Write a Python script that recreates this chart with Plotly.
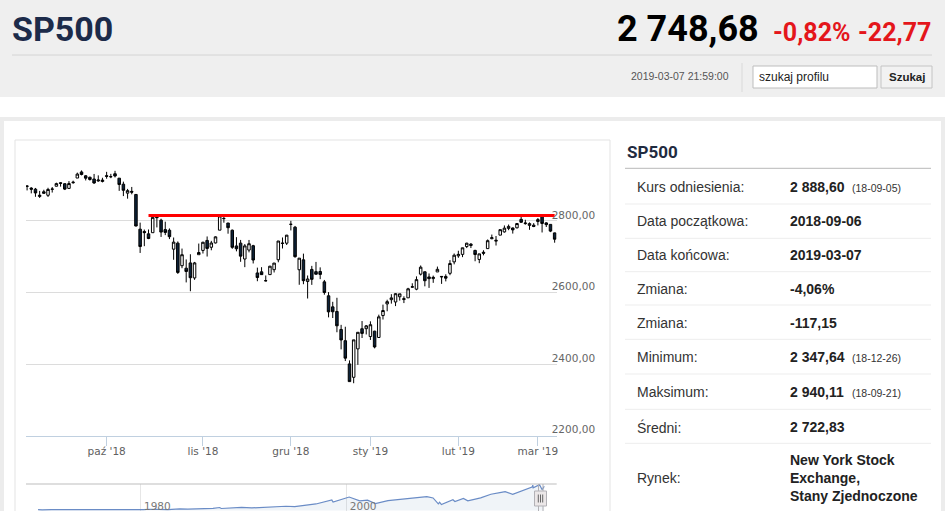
import plotly.graph_objects as go

W, H = 945, 511

# ---------------- data: S&P 500 daily candles ----------------
dates = [
    "2018-09-04", "2018-09-05", "2018-09-06", "2018-09-07", "2018-09-10", "2018-09-11", "2018-09-12",
    "2018-09-13", "2018-09-14", "2018-09-17", "2018-09-18", "2018-09-19", "2018-09-20", "2018-09-21",
    "2018-09-24", "2018-09-25", "2018-09-26", "2018-09-27", "2018-09-28",
    "2018-10-01", "2018-10-02", "2018-10-03", "2018-10-04", "2018-10-05", "2018-10-08", "2018-10-09",
    "2018-10-10", "2018-10-11", "2018-10-12", "2018-10-15", "2018-10-16", "2018-10-17", "2018-10-18",
    "2018-10-19", "2018-10-22", "2018-10-23", "2018-10-24", "2018-10-25", "2018-10-26", "2018-10-29",
    "2018-10-30", "2018-10-31",
    "2018-11-01", "2018-11-02", "2018-11-05", "2018-11-06", "2018-11-07", "2018-11-08", "2018-11-09",
    "2018-11-12", "2018-11-13", "2018-11-14", "2018-11-15", "2018-11-16", "2018-11-19", "2018-11-20",
    "2018-11-21", "2018-11-23", "2018-11-26", "2018-11-27", "2018-11-28", "2018-11-29", "2018-11-30",
    "2018-12-03", "2018-12-04", "2018-12-06", "2018-12-07", "2018-12-10", "2018-12-11", "2018-12-12",
    "2018-12-13", "2018-12-14", "2018-12-17", "2018-12-18", "2018-12-19", "2018-12-20", "2018-12-21",
    "2018-12-24", "2018-12-26", "2018-12-27", "2018-12-28", "2018-12-31",
    "2019-01-02", "2019-01-03", "2019-01-04", "2019-01-07", "2019-01-08", "2019-01-09", "2019-01-10",
    "2019-01-11", "2019-01-14", "2019-01-15", "2019-01-16", "2019-01-17", "2019-01-18", "2019-01-22",
    "2019-01-23", "2019-01-24", "2019-01-25", "2019-01-28", "2019-01-29", "2019-01-30", "2019-01-31",
    "2019-02-01", "2019-02-04", "2019-02-05", "2019-02-06", "2019-02-07", "2019-02-08", "2019-02-11",
    "2019-02-12", "2019-02-13", "2019-02-14", "2019-02-15", "2019-02-19", "2019-02-20", "2019-02-21",
    "2019-02-22", "2019-02-25", "2019-02-26", "2019-02-27", "2019-02-28",
    "2019-03-01", "2019-03-04", "2019-03-05", "2019-03-06", "2019-03-07",
]
opens = [
    2896.96, 2891.59, 2888.64, 2868.26, 2881.39, 2871.57, 2888.29, 2896.85, 2906.38, 2903.83,
    2890.74, 2906.60, 2919.73, 2936.76, 2925.94, 2921.83, 2916.98, 2911.65, 2910.03,
    2926.29, 2923.80, 2931.69, 2919.35, 2902.54, 2877.53, 2882.51, 2873.90, 2776.87, 2770.54,
    2763.83, 2767.05, 2811.67, 2802.00, 2775.66, 2773.94, 2721.03, 2737.87, 2674.88, 2667.86,
    2682.65, 2640.68, 2705.60,
    2717.58, 2745.45, 2726.37, 2738.40, 2774.13, 2806.38, 2794.10, 2773.93, 2730.05, 2737.90,
    2693.52, 2718.54, 2730.74, 2654.60, 2657.74, 2633.36, 2649.97, 2663.75, 2691.45, 2736.97,
    2737.76,
    2790.50, 2782.43, 2663.51, 2691.26, 2630.86, 2664.44, 2658.23, 2658.70, 2629.68, 2590.75,
    2559.90, 2547.05, 2496.77, 2465.38, 2400.56, 2363.12, 2442.50, 2498.77, 2498.94,
    2476.96, 2491.92, 2474.33, 2535.61, 2568.11, 2580.00, 2573.51, 2588.11, 2580.31, 2585.10,
    2614.75, 2609.28, 2651.27, 2657.88, 2643.48, 2638.84, 2657.44, 2644.97, 2644.89, 2653.62,
    2685.49,
    2702.32, 2706.49, 2728.34, 2735.05, 2717.53, 2692.36, 2712.40, 2722.61, 2750.30, 2743.50,
    2760.24, 2769.28, 2779.05, 2780.24, 2780.67, 2804.35, 2792.36, 2787.50, 2788.11,
    2798.22, 2814.37, 2794.41, 2790.27, 2766.53,
]
highs = [
    2900.18, 2894.21, 2892.05, 2883.81, 2886.93, 2892.52, 2894.65, 2906.76, 2908.30, 2904.65,
    2911.17, 2912.36, 2934.80, 2940.91, 2927.75, 2923.79, 2931.15, 2927.22, 2920.53,
    2937.06, 2931.42, 2939.86, 2919.78, 2909.64, 2889.45, 2894.83, 2874.02, 2795.14, 2775.77,
    2775.99, 2813.46, 2816.94, 2806.04, 2797.77, 2778.94, 2753.59, 2742.59, 2722.70, 2692.38,
    2706.85, 2685.43, 2736.69,
    2741.67, 2756.55, 2744.27, 2756.82, 2815.15, 2814.75, 2794.10, 2775.99, 2754.60, 2746.80,
    2735.38, 2746.75, 2733.16, 2669.44, 2670.73, 2647.55, 2674.35, 2682.53, 2744.00, 2753.75,
    2760.88,
    2800.18, 2785.93, 2696.15, 2708.54, 2647.51, 2674.35, 2685.44, 2670.19, 2635.07, 2601.13,
    2573.99, 2585.29, 2509.63, 2504.41, 2410.34, 2467.76, 2489.10, 2520.27, 2509.24,
    2519.49, 2493.14, 2538.07, 2566.16, 2579.82, 2595.32, 2597.82, 2596.27, 2589.32, 2613.08,
    2625.76, 2645.06, 2675.47, 2657.88, 2653.19, 2647.20, 2672.38, 2644.97, 2650.93, 2690.44,
    2708.95,
    2716.66, 2724.99, 2738.98, 2738.08, 2719.32, 2708.07, 2718.05, 2748.19, 2761.85, 2757.90,
    2775.66, 2787.33, 2789.88, 2781.58, 2794.20, 2813.49, 2803.12, 2795.76, 2793.73,
    2808.02, 2816.88, 2796.44, 2790.27, 2767.25,
]
lows = [
    2885.13, 2876.92, 2867.29, 2864.12, 2875.94, 2866.78, 2879.20, 2896.39, 2895.77, 2886.16,
    2890.43, 2903.82, 2919.73, 2927.11, 2912.98, 2912.63, 2903.28, 2909.27, 2907.50,
    2917.91, 2919.37, 2921.36, 2883.92, 2869.29, 2862.08, 2874.27, 2784.86, 2710.51, 2729.44,
    2749.03, 2766.91, 2781.81, 2755.18, 2760.27, 2749.22, 2691.43, 2651.89, 2667.84, 2628.16,
    2603.54, 2635.34, 2705.60,
    2708.85, 2700.44, 2717.94, 2737.08, 2774.13, 2794.99, 2764.24, 2722.00, 2714.98, 2685.75,
    2670.75, 2712.16, 2681.09, 2631.52, 2649.82, 2631.09, 2649.97, 2655.89, 2684.38, 2722.94,
    2732.76,
    2773.38, 2697.18, 2621.53, 2623.14, 2583.23, 2621.30, 2650.26, 2637.27, 2593.84, 2530.54,
    2528.71, 2488.96, 2441.18, 2408.55, 2351.10, 2346.58, 2397.94, 2472.89, 2482.82,
    2467.47, 2443.96, 2474.33, 2524.56, 2547.56, 2568.89, 2562.02, 2577.40, 2570.41, 2585.10,
    2612.68, 2606.36, 2647.58, 2617.27, 2612.86, 2627.01, 2657.33, 2624.06, 2631.05, 2648.34,
    2678.65,
    2696.88, 2698.75, 2724.03, 2724.15, 2687.26, 2681.83, 2703.79, 2722.61, 2748.63, 2731.23,
    2760.24, 2767.29, 2774.06, 2764.55, 2779.11, 2794.99, 2789.47, 2775.13, 2782.51,
    2787.38, 2767.66, 2782.97, 2768.69, 2739.09,
]
closes = [
    2896.72, 2888.60, 2878.05, 2871.68, 2877.13, 2887.89, 2888.92, 2904.18, 2904.98, 2888.80,
    2904.31, 2907.95, 2930.75, 2929.67, 2919.37, 2915.56, 2905.97, 2914.00, 2913.98,
    2924.59, 2923.43, 2925.51, 2901.61, 2885.57, 2884.43, 2880.34, 2785.68, 2728.37, 2767.13,
    2750.79, 2809.92, 2809.21, 2768.78, 2767.78, 2755.88, 2740.69, 2656.10, 2705.57, 2658.69,
    2641.25, 2682.63, 2711.74,
    2740.37, 2723.06, 2738.31, 2755.45, 2813.89, 2806.83, 2781.01, 2726.22, 2722.18, 2701.58,
    2730.20, 2736.27, 2690.73, 2641.89, 2649.93, 2632.56, 2673.45, 2682.17, 2743.79, 2737.80,
    2760.17,
    2790.37, 2700.06, 2695.95, 2633.08, 2637.72, 2636.78, 2651.07, 2650.54, 2599.95, 2545.94,
    2546.16, 2506.96, 2467.42, 2416.62, 2351.10, 2467.70, 2488.83, 2485.74, 2506.85,
    2510.03, 2447.89, 2531.94, 2549.69, 2574.41, 2584.96, 2596.64, 2596.26, 2582.61, 2610.30,
    2616.10, 2635.96, 2670.71, 2632.90, 2638.70, 2642.33, 2664.76, 2643.85, 2640.00, 2681.05,
    2704.10,
    2706.53, 2724.87, 2737.70, 2731.61, 2706.05, 2707.88, 2709.80, 2744.73, 2753.03, 2745.73,
    2775.60, 2779.76, 2784.70, 2774.88, 2792.67, 2796.11, 2793.90, 2792.38, 2784.49,
    2803.69, 2792.81, 2789.65, 2771.45, 2748.93,
]

# resistance line drawn on the chart
resistance_level = 2815
resistance_from = "2018-10-15"
resistance_to = "2019-03-07"

# axis ticks
x_tickvals = ["2018-10-01", "2018-11-01", "2018-12-03", "2019-01-02", "2019-02-01", "2019-03-01"]
x_ticktext = ["paź '18", "lis '18", "gru '18", "sty '19", "lut '19", "mar '19"]
y_tickvals = [2200, 2400, 2600, 2800, 3000]
y_ticktext = ["2200,00", "2400,00", "2600,00", "2800,00", ""]

# navigator (long history)
nav_dates = [
    "1970-01-02", "1970-05-26", "1971-04-28", "1971-11-23", "1973-01-11", "1974-10-03", "1975-07-15",
    "1976-09-21", "1978-03-06", "1979-10-05", "1980-03-27", "1980-11-28", "1982-08-12", "1983-10-10",
    "1984-07-24", "1986-12-31", "1987-08-25", "1987-10-19", "1989-10-09", "1990-10-11", "1992-12-31",
    "1994-02-02", "1994-12-09", "1996-12-31", "1998-07-17", "1998-08-31", "2000-03-24", "2001-04-04",
    "2002-01-04", "2002-10-09", "2003-12-31", "2006-12-29", "2007-10-09", "2008-05-19", "2008-11-20",
    "2009-01-06", "2009-03-09", "2010-04-23", "2010-07-02", "2011-04-29", "2011-10-03", "2012-12-31",
    "2013-12-31", "2014-12-31", "2015-05-21", "2016-02-11", "2016-12-30", "2017-12-29", "2018-01-26",
    "2018-02-08", "2018-09-20", "2018-12-24", "2019-03-07",
]
nav_values = [
    93, 69, 104, 91, 120, 62, 95, 107, 87, 111, 98, 140, 102, 172, 147, 242, 336, 225, 359, 295, 436,
    482, 445, 741, 1187, 957, 1527, 1103, 1172, 777, 1112, 1418, 1565, 1426, 752, 935, 677, 1217, 1022,
    1363, 1099, 1426, 1848, 2059, 2131, 1829, 2239, 2674, 2873, 2581, 2931, 2351, 2749,
]
nav_tickvals = ["1980-01-01", "2000-01-01"]
nav_ticktext = ["1980", "2000"]

# header and info panel texts
title = "SP500"
last_price = "2 748,68"
change_pct = "-0,82%"
change_abs = "-22,77"
timestamp = "2019-03-07 21:59:00"
table_labels = ["Kurs odniesienia:", "Data początkowa:", "Data końcowa:", "Zmiana:", "Zmiana:",
                "Minimum:", "Maksimum:", "Średni:", "Rynek:"]
table_values = ["2 888,60", "2018-09-06", "2019-03-07", "-4,06%", "-117,15",
                "2 347,64", "2 940,11", "2 722,83", "New York Stock<br>Exchange,<br>Stany Zjednoczone"]
table_notes = ["(18-09-05)", "", "", "", "", "(18-12-26)", "(18-09-21)", "", ""]


# ---------------- helpers (pixel -> paper) ----------------
def px(x):
    return x / W


def py(y):
    return 1 - y / H


ARIAL = "Liberation Sans, Arial, sans-serif"
HEAD = "Roboto, Liberation Sans, sans-serif"
HC = "DejaVu Sans, Verdana, sans-serif"

fig = go.Figure()

fig.add_trace(go.Candlestick(
    x=dates, open=opens, high=highs, low=lows, close=closes,
    increasing=dict(line=dict(color="#000000", width=1), fillcolor="#ffffff"),
    decreasing=dict(line=dict(color="#000000", width=1), fillcolor="#0d233a"),
    whiskerwidth=0, xaxis="x", yaxis="y", showlegend=False, hoverinfo="skip",
))
fig.add_trace(go.Scatter(
    x=[resistance_from, resistance_to], y=[resistance_level, resistance_level],
    mode="lines", line=dict(color="#ff0000", width=3),
    xaxis="x", yaxis="y", showlegend=False, hoverinfo="skip",
))
fig.add_trace(go.Scatter(
    x=nav_dates, y=nav_values, mode="lines",
    line=dict(color="#6a8cc6", width=1.2), fill="tozeroy", fillcolor="rgba(69,114,167,0.08)",
    xaxis="x2", yaxis="y2", showlegend=False, hoverinfo="skip",
))

shapes = []
ann = []


def rect(x0, y0, x1, y1, fill=None, line=None, lw=1, layer="below"):
    shapes.append(dict(type="rect", xref="paper", yref="paper",
                       x0=px(x0), x1=px(x1), y0=py(y1), y1=py(y0),
                       fillcolor=fill if fill else "rgba(0,0,0,0)",
                       line=dict(color=line if line else "rgba(0,0,0,0)", width=lw if line else 0),
                       layer=layer))


def hline(x0, x1, y, color, lw=1, layer="below"):
    shapes.append(dict(type="line", xref="paper", yref="paper",
                       x0=px(x0), x1=px(x1), y0=py(y), y1=py(y),
                       line=dict(color=color, width=lw), layer=layer))


def vline(x, y0, y1, color, lw=1, layer="below"):
    shapes.append(dict(type="line", xref="paper", yref="paper",
                       x0=px(x), x1=px(x), y0=py(y0), y1=py(y1),
                       line=dict(color=color, width=lw), layer=layer))


def text(x, y, s, size, color, family=ARIAL, xanchor="left", yanchor="middle"):
    ann.append(dict(xref="paper", yref="paper", x=px(x), y=py(y), text=s, showarrow=False,
                    xanchor=xanchor, yanchor=yanchor, align="left",
                    font=dict(size=size, color=color, family=family)))


# header band
rect(0, 0, W, 97, fill="#efefef")
hline(12, 932, 55, "#d4d4d4")
vline(742, 63, 92, "#d9d9d9")
rect(753, 66, 877, 88, fill="#ffffff", line="#bdbdbd")
rect(881, 66, 932, 88, fill="#f2f2f2", line="#c4c4c4")

# main content box
rect(0, 117, W, H + 5, fill="#ececec")
rect(4, 121, W - 4, H + 5, fill="#ffffff")
rect(15, 140, 610, H + 10, line="#e3e3e3")

# info panel lines
hline(625, 931, 168.3, "#b8b8b8")
for yy in [204, 238.3, 271.7, 305, 339.3, 374, 409.3, 443.3]:
    hline(625, 931, yy, "#ededed")

# navigator outline and handle
hline(26, 556.7, 484, "#bdbdbd", layer="above")
vline(538.5, 484, H + 2, "#b2b1b6", layer="above")
vline(543, 484, H + 2, "#b2b1b6", layer="above")
rect(534.5, 491, 546.5, 506, fill="#ebe7e8", line="#b2b1b6", layer="above")
for xx in [538.3, 540.5, 542.7]:
    vline(xx, 494.5, 502.5, "#666666", layer="above")

# header texts
text(10, 29, "<b>" + title + "</b>", 34, "#1c2b4a", family=HEAD)
text(761, 29, "<b>" + last_price + "</b>", 36, "#000000", family=HEAD, xanchor="right")
text(853, 32, "<b>" + change_pct + "</b>", 25, "#e4161b", family=HEAD, xanchor="right")
text(933, 32, "<b>" + change_abs + "</b>", 25, "#e4161b", family=HEAD, xanchor="right")
text(731, 76.5, timestamp, 10.5, "#555555", xanchor="right")
text(757, 77, "szukaj profilu", 12, "#222222")
text(906.5, 77, "<b>Szukaj</b>", 11.5, "#222222", xanchor="center")

# info panel texts
text(625, 152.5, "<b>" + title + "</b>", 17, "#1f2b40", family=HEAD)
row_y = [187.3, 221, 255, 289, 322.5, 357.3, 392.3, 427.3, 478.3]
for lab, val, note, yy in zip(table_labels, table_values, table_notes, row_y):
    text(635, yy, lab, 14, "#333333")
    text(788, yy, "<b>" + val + "</b>", 14, "#222222")
    if note:
        text(850, yy + 1, note, 10.5, "#333333")

layout_font = dict(family=HC, size=10.5, color="#606060")

fig.update_layout(
    width=W, height=H,
    margin=dict(l=0, r=0, t=0, b=0),
    paper_bgcolor="#ffffff", plot_bgcolor="rgba(0,0,0,0)",
    showlegend=False,
    font=layout_font,
    boxgap=0.15,
    shapes=shapes, annotations=ann,
    xaxis=dict(
        type="category", domain=[px(26), px(556.7)], range=[-0.26, 126.49],
        anchor="y", tickmode="array", tickvals=x_tickvals, ticktext=x_ticktext,
        ticks="outside", ticklen=9, tickcolor="#C0D0E0", tickwidth=1,
        showline=True, linecolor="#C0D0E0", linewidth=1, showgrid=False,
        ticklabelstandoff=-3,
        tickfont=dict(family=HC, size=10.5, color="#606060"),
        rangeslider=dict(visible=False), fixedrange=True,
    ),
    yaxis=dict(
        domain=[py(435.7), py(149.3)], range=[2200, 3000], anchor="x", side="right",
        tickmode="array", tickvals=y_tickvals, ticktext=y_ticktext,
        showgrid=True, gridcolor="#dcdcdc", gridwidth=1, zeroline=False, showline=False,
        ticks="", ticklabelstandoff=-6, ticklabelshift=-6,
        tickfont=dict(family=HC, size=10.5, color="#666666"), fixedrange=True,
    ),
    xaxis2=dict(
        type="date", domain=[px(26), px(556.7)], range=["1968-10-31", "2020-05-22"],
        anchor="y2", tickmode="array", tickvals=nav_tickvals, ticktext=nav_ticktext,
        showgrid=True, gridcolor="#e6e6e6", ticks="", showline=False, zeroline=False,
        ticklabelposition="inside right", ticklabelstandoff=-7, ticklabelshift=3,
        tickfont=dict(family=HC, size=10.5, color="#777777"), fixedrange=True,
    ),
    yaxis2=dict(
        domain=[0, py(484)], range=[-60, 3010], anchor="x2",
        showgrid=False, showticklabels=False, zeroline=False, showline=False, ticks="", fixedrange=True,
    ),
)

page_css = (
    "document.documentElement.style.margin='0px';"
    "document.documentElement.style.overflow='hidden';"
    "document.documentElement.style.height='511px';"
    "document.body.style.margin='0px';"
    "document.body.style.overflow='hidden';"
    "document.body.style.height='511px';"
)
fig.write_html("out.html", config={"displayModeBar": False}, post_script=page_css)
